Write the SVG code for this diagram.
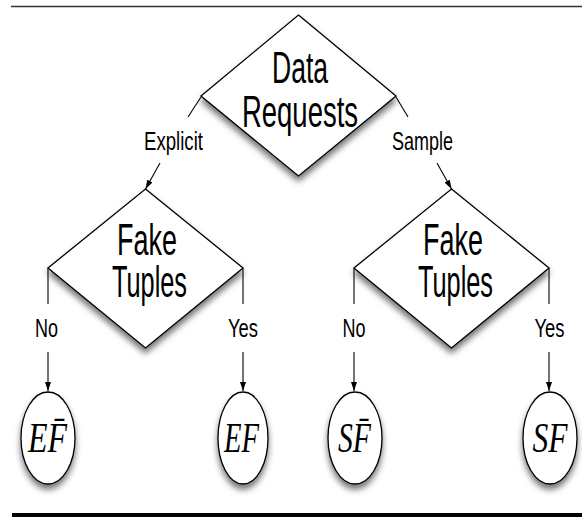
<svg xmlns="http://www.w3.org/2000/svg" width="582" height="519" viewBox="0 0 582 519">
<defs>
<filter id="sh" x="-20%" y="-20%" width="140%" height="150%">
<feDropShadow dx="0" dy="5" stdDeviation="3" flood-color="#000" flood-opacity="0.55"/>
</filter>
<marker id="arr" markerWidth="10" markerHeight="8" refX="9" refY="3" orient="auto" markerUnits="userSpaceOnUse">
<path d="M0,0 L9,3 L0,6 z" fill="#000"/>
</marker>
<style>
.dia{fill:#fff;stroke:#000;stroke-width:1.3;filter:url(#sh)}
.ell{fill:#fff;stroke:#000;stroke-width:1.3;filter:url(#sh)}
.big{font-family:"Liberation Sans",Arial,sans-serif;font-size:44px;fill:#000;text-anchor:middle}
.lab{font-family:"Liberation Sans",Arial,sans-serif;font-size:25px;fill:#000;text-anchor:middle}
.math{font-family:"Liberation Serif","Times New Roman",serif;font-style:italic;font-size:43px;fill:#000;text-anchor:middle}
.con{stroke:#000;stroke-width:1.1;fill:none}
.rule{stroke-linecap:butt}
</style>
</defs>
<line class="rule" x1="11" y1="6.5" x2="582" y2="6.5" stroke="#333" stroke-width="1.3"/>
<line class="rule" x1="12" y1="515" x2="582" y2="515" stroke="#000" stroke-width="4"/>
<g id="connectors">
<line class="con" x1="201" y1="97" x2="188" y2="117"/>
<line class="con" x1="160" y1="163" x2="145.5" y2="189" marker-end="url(#arr)"/>
<line class="con" x1="396" y1="97" x2="408" y2="117"/>
<line class="con" x1="437" y1="163" x2="451.5" y2="189" marker-end="url(#arr)"/>
<line class="con" x1="48" y1="268" x2="48" y2="304"/>
<line class="con" x1="48" y1="352" x2="48" y2="391" marker-end="url(#arr)"/>
<line class="con" x1="243" y1="268" x2="243" y2="304"/>
<line class="con" x1="243" y1="352" x2="243" y2="391" marker-end="url(#arr)"/>
<line class="con" x1="354" y1="268" x2="354" y2="304"/>
<line class="con" x1="354" y1="352" x2="354" y2="391" marker-end="url(#arr)"/>
<line class="con" x1="549" y1="268" x2="549" y2="304"/>
<line class="con" x1="549" y1="352" x2="549" y2="391" marker-end="url(#arr)"/>
<text class="lab" x="173.5" y="150" textLength="59" lengthAdjust="spacingAndGlyphs">Explicit</text>
<text class="lab" x="422.5" y="150" textLength="61" lengthAdjust="spacingAndGlyphs">Sample</text>
<text class="lab" x="46.5" y="337" textLength="23" lengthAdjust="spacingAndGlyphs">No</text>
<text class="lab" x="243" y="337" textLength="30" lengthAdjust="spacingAndGlyphs">Yes</text>
<text class="lab" x="354" y="337" textLength="23" lengthAdjust="spacingAndGlyphs">No</text>
<text class="lab" x="549.5" y="337" textLength="30" lengthAdjust="spacingAndGlyphs">Yes</text>
</g>
<g id="data-requests">
<polygon class="dia" points="298.5,15 396,96 298.5,176 201,96"/>
<text class="big" x="300" y="83" textLength="56" lengthAdjust="spacingAndGlyphs">Data</text>
<text class="big" x="300" y="127" textLength="116" lengthAdjust="spacingAndGlyphs">Requests</text>
</g>
<g id="fake-tuples-left">
<polygon class="dia" points="145.5,189 243,268 145.5,348 48,268"/>
<text class="big" x="147" y="255" textLength="60" lengthAdjust="spacingAndGlyphs">Fake</text>
<text class="big" x="149.5" y="297" textLength="75" lengthAdjust="spacingAndGlyphs">Tuples</text>
</g>
<g id="fake-tuples-right">
<polygon class="dia" points="451.5,189 549,268 451.5,348 354,268"/>
<text class="big" x="453" y="255" textLength="60" lengthAdjust="spacingAndGlyphs">Fake</text>
<text class="big" x="455.5" y="297" textLength="75" lengthAdjust="spacingAndGlyphs">Tuples</text>
</g>
<g id="ef-bar">
<ellipse class="ell" cx="48" cy="438" rx="27" ry="46"/>
<text class="math" x="47.5" y="452" textLength="39" lengthAdjust="spacingAndGlyphs">EF̄</text>
</g>
<g id="ef">
<ellipse class="ell" cx="243" cy="438" rx="25" ry="46"/>
<text class="math" x="241.5" y="452" textLength="35" lengthAdjust="spacingAndGlyphs">EF</text>
</g>
<g id="sf-bar">
<ellipse class="ell" cx="355" cy="438" rx="27" ry="46"/>
<text class="math" x="354.5" y="452" textLength="33" lengthAdjust="spacingAndGlyphs">SF̄</text>
</g>
<g id="sf">
<ellipse class="ell" cx="550" cy="438" rx="27" ry="46"/>
<text class="math" x="550" y="452" textLength="35" lengthAdjust="spacingAndGlyphs">SF</text>
</g>
</svg>
